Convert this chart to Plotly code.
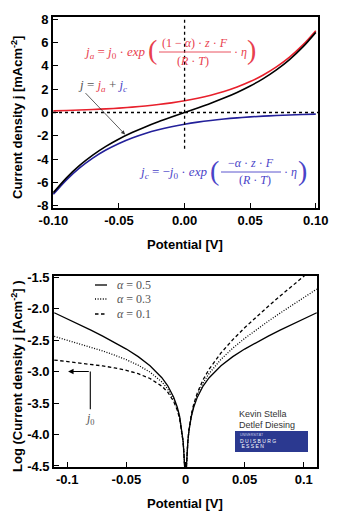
import plotly.graph_objects as go

# ---------------- data ----------------
# top panel: potential [V] and current densities [mA/cm^2]
pot_top = [-0.10, -0.09, -0.08, -0.07, -0.06, -0.05, -0.04, -0.03, -0.02, -0.01, 0.00,
           0.01, 0.02, 0.03, 0.04, 0.05, 0.06, 0.07, 0.08, 0.09, 0.10]
j_anodic = [0.143, 0.173, 0.211, 0.256, 0.311, 0.378, 0.459, 0.558, 0.678, 0.823, 1.000,
            1.215, 1.476, 1.793, 2.179, 2.647, 3.216, 3.907, 4.747, 5.768, 7.007]
j_cathodic = [-7.007, -5.768, -4.747, -3.907, -3.216, -2.647, -2.179, -1.793, -1.476, -1.215, -1.000,
              -0.823, -0.678, -0.558, -0.459, -0.378, -0.311, -0.256, -0.211, -0.173, -0.143]
j_total = [-6.864, -5.595, -4.536, -3.651, -2.905, -2.269, -1.720, -1.235, -0.798, -0.392, 0.000,
           0.392, 0.798, 1.235, 1.720, 2.269, 2.905, 3.651, 4.536, 5.595, 6.864]

# bottom panel: potential [V] and log10(|j| [A/cm^2]) for three alphas
pot_log = [-0.111, -0.10, -0.09, -0.08, -0.07, -0.06, -0.05, -0.04, -0.03, -0.02, -0.015, -0.01,
           -0.007, -0.005, -0.003, -0.002, -0.001, -0.0008, 0.0,
           0.0008, 0.001, 0.002, 0.003, 0.005, 0.007, 0.01, 0.015, 0.02, 0.03, 0.04, 0.05,
           0.06, 0.07, 0.08, 0.09, 0.10, 0.111]
log_a05 = [-2.067, -2.163, -2.252, -2.343, -2.438, -2.537, -2.644, -2.764, -2.908, -3.098, -3.227, -3.407,
           -3.563, -3.710, -3.932, -4.108, -4.410, -4.506, -4.8,
           -4.506, -4.410, -4.108, -3.932, -3.710, -3.563, -3.407, -3.227, -3.098, -2.908, -2.764, -2.644,
           -2.537, -2.438, -2.343, -2.252, -2.163, -2.067]
log_a03 = [-2.443, -2.502, -2.557, -2.614, -2.674, -2.740, -2.813, -2.900, -3.010, -3.165, -3.278, -3.441,
           -3.587, -3.727, -3.942, -4.115, -4.413, -4.509, -4.8,
           -4.504, -4.406, -4.102, -3.922, -3.693, -3.539, -3.373, -3.177, -3.030, -2.807, -2.629, -2.475,
           -2.334, -2.201, -2.073, -1.948, -1.825, -1.692]
log_a01 = [-2.818, -2.840, -2.861, -2.884, -2.911, -2.943, -2.982, -3.035, -3.111, -3.233, -3.329, -3.474,
           -3.611, -3.744, -3.952, -4.122, -4.416, -4.512, -4.8,
           -4.501, -4.403, -4.095, -3.912, -3.676, -3.516, -3.339, -3.126, -2.962, -2.705, -2.494, -2.306,
           -2.131, -1.964, -1.802, -1.643, -1.487, -1.316]
alpha_labels = ["α = 0.5", "α = 0.3", "α = 0.1"]

# tick labels
top_xticks = [-0.10, -0.05, 0.0, 0.05, 0.10]
top_xtext = ["-0.10", "-0.05", "0.00", "0.05", "0.10"]
top_yticks = [8, 6, 4, 2, 0, -2, -4, -6, -8]
top_ytext = ["8", "6", "4", "2", "0", "-2", "-4", "-6", "-8"]
bot_xticks = [-0.1, -0.05, 0.0, 0.05, 0.1]
bot_xtext = ["-0.1", "-0.05", "0", "0.05", "0.1"]
bot_yticks = [-1.5, -2.0, -2.5, -3.0, -3.5, -4.0, -4.5]
bot_ytext = ["-1.5", "-2.0", "-2.5", "-3.0", "-3.5", "-4.0", "-4.5"]

# ---------------- styling ----------------
W, H = 350, 517
RED = "#e8202c"
BLUE = "#23209a"
RED_T = "#e8404e"
BLUE_T = "#4a44c8"
GRAY_T = "#555555"
SANS = "Liberation Sans"
SERIF = "Liberation Serif"


def px(x):
    return x / W


def py(y):
    return 1 - y / H


fig = go.Figure()

# top panel curves
fig.add_trace(go.Scatter(x=pot_top, y=j_anodic, mode="lines", line=dict(color=RED, width=1.6, shape="spline"),
                         xaxis="x", yaxis="y", showlegend=False))
fig.add_trace(go.Scatter(x=pot_top, y=j_cathodic, mode="lines", line=dict(color=BLUE, width=1.6, shape="spline"),
                         xaxis="x", yaxis="y", showlegend=False))
fig.add_trace(go.Scatter(x=pot_top, y=j_total, mode="lines", line=dict(color="black", width=1.6, shape="spline"),
                         xaxis="x", yaxis="y", showlegend=False))

# bottom panel curves
dashes = ["solid", "1px,1.6px", "3.5px,2.5px"]
for ys, d in zip([log_a05, log_a03, log_a01], dashes):
    fig.add_trace(go.Scatter(x=pot_log, y=ys, mode="lines", line=dict(color="black", width=1.3, dash=d),
                             xaxis="x2", yaxis="y2", showlegend=False))

axis_common = dict(showline=True, linecolor="black", linewidth=1.6, mirror=True, ticks="inside",
                   ticklen=5, tickwidth=1.3, tickcolor="black", showgrid=False, zeroline=False,
                   automargin=False,
                   tickfont=dict(family=SANS, size=13, color="black", weight="bold"))

fig.update_layout(
    template="none",
    width=W, height=H, margin=dict(l=0, r=0, t=0, b=0, pad=0),
    paper_bgcolor="white", plot_bgcolor="white",
    xaxis=dict(domain=[px(53), px(318)], anchor="y", range=[-0.1003, 0.1017],
               tickvals=top_xticks, ticktext=top_xtext, **axis_common),
    yaxis=dict(domain=[py(208), py(17)], anchor="x", range=[-8.18, 8.18],
               tickvals=top_yticks, ticktext=top_ytext, **axis_common),
    xaxis2=dict(domain=[px(54), px(317)], anchor="y2", range=[-0.1112, 0.1112],
                tickvals=bot_xticks, ticktext=bot_xtext, **axis_common),
    yaxis2=dict(domain=[py(467), py(276)], anchor="x2", range=[-4.516, -1.484],
                tickvals=bot_yticks, ticktext=bot_ytext, **axis_common),
)

shapes = []
ann = []

# dotted zero lines in top panel
shapes.append(dict(type="line", xref="x domain", yref="y", x0=0, x1=1, y0=0, y1=0,
                   line=dict(color="black", width=1.3, dash="3px,3px")))
shapes.append(dict(type="line", xref="x", yref="y domain", x0=0, x1=0, y0=0.31, y1=1,
                   line=dict(color="black", width=1.3, dash="3px,3px")))

# axis titles
title_font = dict(family=SANS, size=13, color="black", weight="bold")
ann.append(dict(text="Potential [V]", x=px(185), y=py(244), xref="paper", yref="paper",
                showarrow=False, font=title_font, xanchor="center", yanchor="middle"))
ann.append(dict(text="Potential [V]", x=px(185), y=py(503), xref="paper", yref="paper",
                showarrow=False, font=title_font, xanchor="center", yanchor="middle"))
ann.append(dict(text="Current density j [mAcm<sup>-2</sup>]", x=px(17), y=py(118), xref="paper", yref="paper",
                showarrow=False, font=title_font, textangle=-90, xanchor="center", yanchor="middle"))
ann.append(dict(text="Log (Current density j [Acm<sup>-2</sup>] )", x=px(17), y=py(376), xref="paper",
                yref="paper", showarrow=False, font=title_font, textangle=-90, xanchor="center",
                yanchor="middle"))


def txt(s, x, y, color, size=13, xanchor="center", family=SERIF):
    ann.append(dict(text=s, x=px(x), y=py(y), xref="paper", yref="paper", showarrow=False,
                    font=dict(family=family, size=size, color=color), xanchor=xanchor, yanchor="middle"))


# anodic equation (red)
txt("<i>j<sub>a</sub></i> = <i>j</i><sub>0</sub> · <i>exp</i>", 148, 52, RED_T, 13, "right")
txt("(", 152, 50, RED_T, 28)
txt("(1 − <i>α</i>) · <i>z</i> · <i>F</i>", 195, 43, RED_T, 12)
shapes.append(dict(type="line", xref="paper", yref="paper", x0=px(159), x1=px(231), y0=py(52), y1=py(52),
                   line=dict(color=RED_T, width=0.9)))
txt("(<i>R</i> · <i>T</i>)", 193, 61, RED_T, 12)
txt("· <i>η</i>", 232, 52, RED_T, 12, "left")
txt(")", 251, 50, RED_T, 28)

# cathodic equation (blue)
txt("<i>j<sub>c</sub></i> = −<i>j</i><sub>0</sub> · <i>exp</i>", 209, 172, BLUE_T, 13, "right")
txt("(", 214, 170, BLUE_T, 28)
txt("−<i>α</i> · <i>z</i> · <i>F</i>", 251, 163, BLUE_T, 12)
shapes.append(dict(type="line", xref="paper", yref="paper", x0=px(221), x1=px(281), y0=py(172), y1=py(172),
                   line=dict(color=BLUE_T, width=0.9)))
txt("(<i>R</i> · <i>T</i>)", 255, 180, BLUE_T, 12)
txt("· <i>η</i>", 282, 172, BLUE_T, 12, "left")
txt(")", 302, 170, BLUE_T, 28)

# total current label + arrow
txt("<i>j</i> = <span style='color:%s'><i>j<sub>a</sub></i></span> + <span style='color:%s'><i>j<sub>c</sub></i></span>"
    % (RED_T, BLUE_T), 102, 86, GRAY_T, 13)
ann.append(dict(text="", x=-0.0454, y=-1.88, ax=-0.0766, ay=1.79, xref="x", yref="y", axref="x", ayref="y",
                showarrow=True, arrowhead=2, arrowsize=1.0, arrowwidth=0.8, arrowcolor="#333333"))

# bottom legend (manual)
leg_y = [285, 299, 314]
for lab, d, yy in zip(alpha_labels, dashes, leg_y):
    shapes.append(dict(type="line", xref="paper", yref="paper", x0=px(95), x1=px(107), y0=py(yy), y1=py(yy),
                       line=dict(color="black", width=1.3, dash=d)))
    txt("<i>α</i>" + lab[1:], 115, yy, GRAY_T, 12, "left")

# j0 marker
shapes.append(dict(type="line", xref="x2", yref="y2", x0=-0.0805, x1=-0.0805, y0=-3.0, y1=-3.6,
                   line=dict(color="black", width=1.1)))
ann.append(dict(text="", x=-0.0993, y=-3.0, ax=-0.0805, ay=-3.0, xref="x2", yref="y2", axref="x2", ayref="y2",
                showarrow=True, arrowhead=2, arrowsize=1.0, arrowwidth=1.1, arrowcolor="black"))
ann.append(dict(text="<i>j</i><sub>0</sub>", x=-0.0805, y=-3.76, xref="x2", yref="y2", showarrow=False,
                font=dict(family=SERIF, size=12, color=GRAY_T), xanchor="center", yanchor="middle"))

# authors and logo
txt("Kevin Stella", 237, 414, "#333333", 9, "left", SANS)
txt("Detlef Diesing", 237, 425, "#333333", 9, "left", SANS)
shapes.append(dict(type="rect", xref="paper", yref="paper", x0=px(235), x1=px(308), y0=py(452), y1=py(431),
                   fillcolor="#2b3990", line=dict(width=0)))
txt("UNIVERSITÄT", 238, 435, "#c8cce8", 3.5, "left", SANS)
txt("D U I S B U R G", 238, 441, "white", 5, "left", SANS)
txt(" E S S E N", 238, 446, "white", 5, "left", SANS)

fig.update_layout(shapes=shapes, annotations=ann)
fig.write_html("out.html")
